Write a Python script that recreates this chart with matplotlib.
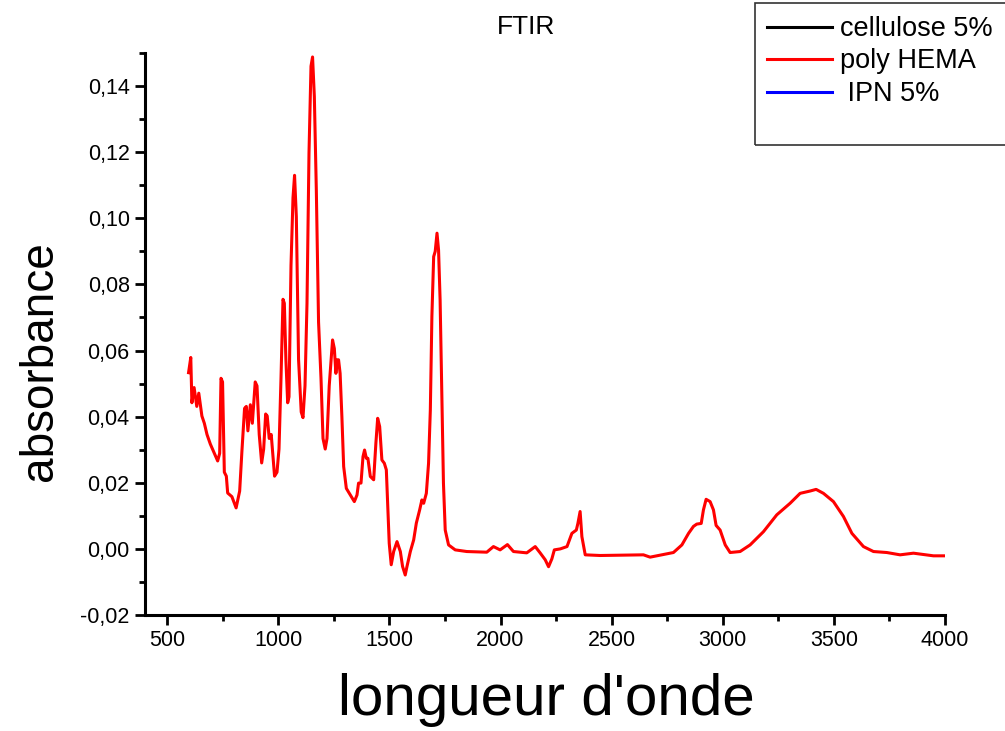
import matplotlib
matplotlib.use('Agg')
import matplotlib.pyplot as plt
from matplotlib.patches import Rectangle
from matplotlib.ticker import MultipleLocator, FuncFormatter

plt.rcParams['font.family'] = ['Liberation Sans', 'DejaVu Sans']

# poly HEMA spectrum
wavenumber = [596, 606, 611, 621, 633, 642, 656, 667, 679, 694, 709, 727, 736, 742, 749,
              757, 766, 772, 791, 810, 826, 836, 848, 856, 863, 874, 883, 896, 904, 914,
              925, 934, 943, 950, 959, 968, 976, 983, 994, 1003, 1012, 1021, 1027, 1034,
              1042, 1048, 1057, 1066, 1073, 1081, 1091, 1103, 1111, 1120, 1129, 1138,
              1147, 1154, 1162, 1171, 1181, 1192, 1201, 1211, 1219, 1229, 1244, 1252,
              1259, 1265, 1271, 1278, 1286, 1294, 1306, 1324, 1342, 1354, 1361, 1372,
              1381, 1388, 1396, 1403, 1414, 1429, 1439, 1447, 1456, 1466, 1477, 1486,
              1492, 1499, 1508, 1519, 1534, 1549, 1559, 1571, 1579, 1594, 1609, 1621,
              1636, 1646, 1654, 1666, 1676, 1684, 1691, 1699, 1706, 1714, 1721, 1728,
              1736, 1743, 1751, 1766, 1796, 1848, 1938, 1968, 1998, 2031, 2058, 2118,
              2156, 2178, 2201, 2216, 2231, 2242, 2269, 2299, 2321, 2341, 2348, 2358,
              2366, 2381, 2448, 2643, 2673, 2778, 2816, 2846, 2868, 2883, 2903, 2913,
              2925, 2943, 2958, 2970, 2988, 3011, 3033, 3078, 3123, 3183, 3243, 3303,
              3348, 3393, 3420, 3453, 3498, 3543, 3581, 3633, 3678, 3738, 3798, 3858,
              3948, 3995]
absorbance = [0.0533, 0.0579, 0.0442, 0.0488, 0.0431, 0.0471, 0.0402, 0.0380, 0.0346, 0.0317,
              0.0294, 0.0266, 0.0289, 0.0516, 0.0505, 0.0232, 0.0220, 0.0169, 0.0158, 0.0124,
              0.0175, 0.0294, 0.0425, 0.0431, 0.0357, 0.0436, 0.0380, 0.0505, 0.0493, 0.0346,
              0.0260, 0.0302, 0.0408, 0.0402, 0.0334, 0.0346, 0.0277, 0.0220, 0.0232, 0.0302,
              0.0516, 0.0755, 0.0743, 0.0573, 0.0442, 0.0460, 0.0857, 0.1062, 0.1130, 0.1005,
              0.0573, 0.0414, 0.0397, 0.0493, 0.0743, 0.1198, 0.1460, 0.1488, 0.1369, 0.1084,
              0.0686, 0.0516, 0.0334, 0.0302, 0.0334, 0.0493, 0.0632, 0.0606, 0.0531, 0.0572,
              0.0572, 0.0531, 0.0400, 0.0249, 0.0183, 0.0163, 0.0143, 0.0163, 0.0199, 0.0199,
              0.0279, 0.0299, 0.0274, 0.0274, 0.0219, 0.0209, 0.0320, 0.0395, 0.0370, 0.0269,
              0.0259, 0.0239, 0.0138, 0.0017, -0.0048, -0.0008, 0.0022, -0.0008, -0.0053,
              -0.0079, -0.0053, -0.0008, 0.0027, 0.0078, 0.0118, 0.0148, 0.0138, 0.0168,
              0.0259, 0.0420, 0.0703, 0.0884, 0.0900, 0.0955, 0.0904, 0.0753, 0.0451, 0.0199,
              0.0057, 0.0012, -0.0003, -0.0008, -0.0010, 0.0007, -0.0003, 0.0013, -0.0008,
              -0.0012, 0.0007, -0.0012, -0.0033, -0.0054, -0.0030, -0.0003, 0.0000, 0.0007,
              0.0047, 0.0057, 0.0077, 0.0113, 0.0037, -0.0018, -0.0020, -0.0018, -0.0025,
              -0.0011, 0.0012, 0.0047, 0.0068, 0.0075, 0.0077, 0.0118, 0.0150, 0.0143, 0.0118,
              0.0071, 0.0057, 0.0012, -0.0011, -0.0008, 0.0012, 0.0052, 0.0103, 0.0138, 0.0168,
              0.0175, 0.0180, 0.0168, 0.0143, 0.0098, 0.0047, 0.0007, -0.0008, -0.0011, -0.0018,
              -0.0013, -0.0021, -0.0021]

labels = ['cellulose 5%', 'poly HEMA', ' IPN 5%']
colors = ['black', 'red', 'blue']

fig = plt.figure(figsize=(10.05, 7.31), dpi=100)
ax = fig.add_axes([145 / 1005, 1 - 615 / 731, 800 / 1005, 562 / 731])

# only the poly HEMA trace is visible in the picture
h0, = ax.plot([], [], color=colors[0], lw=2.2, label=labels[0])
h1, = ax.plot(wavenumber, absorbance, color=colors[1], lw=2.2, label=labels[1])
h2, = ax.plot([], [], color=colors[2], lw=2.2, label=labels[2])

ax.set_xlim(400, 4000)
ax.set_ylim(-0.02, 0.15)
ax.xaxis.set_major_locator(MultipleLocator(500))
ax.xaxis.set_minor_locator(MultipleLocator(250))
ax.yaxis.set_major_locator(MultipleLocator(0.02))
ax.yaxis.set_minor_locator(MultipleLocator(0.01))
ax.yaxis.set_major_formatter(FuncFormatter(lambda v, p: f"{v:.2f}".replace('.', ',').replace('−', '-')))

ax.spines['top'].set_visible(False)
ax.spines['right'].set_visible(False)
for s in ['left', 'bottom']:
    ax.spines[s].set_linewidth(2.2)
ax.tick_params(which='major', direction='out', length=7, width=2, labelsize=15.5, pad=4)
ax.tick_params(which='minor', direction='out', length=4, width=2)

fig.text(526 / 1005, 1 - 27 / 731, 'FTIR', ha='center', va='center', fontsize=19)
fig.text(40 / 1005, 1 - 361 / 731, 'absorbance', rotation=90, ha='center', va='center', fontsize=33)
fig.text(546 / 1005, 1 - 700 / 731, "longueur d'onde", ha='center', va='center', fontsize=42)

fig.patches.append(Rectangle((755 / 1005, 1 - 145 / 731), 300 / 1005, 142 / 731,
                             transform=fig.transFigure, fill=False, edgecolor='#333333', lw=1.2))
fig.legend(handles=[h0, h1, h2], loc='upper left', bbox_to_anchor=(767 / 1005, 1 - 16 / 731),
           frameon=False, fontsize=19.5, borderpad=0, borderaxespad=0,
           handlelength=2.4, handletextpad=0.3, labelspacing=0.24)

fig.savefig('out.png', dpi=100)
